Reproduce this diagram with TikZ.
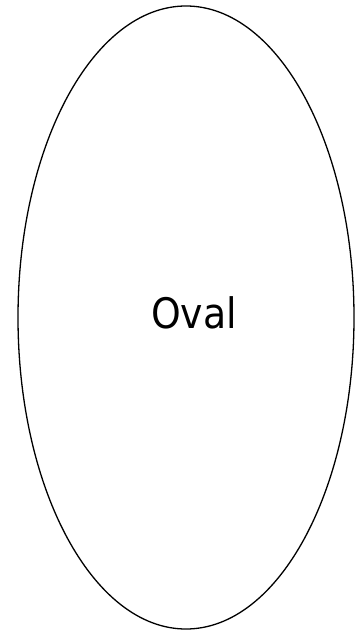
\documentclass[tikz,border=0pt]{standalone}
\usepackage{fontspec}
\setmainfont{DejaVu Sans Condensed}
\usetikzlibrary{shapes.geometric}
\tikzset{ovalshape/.style={ellipse, draw=black, line width=1.3pt, minimum width=336pt, minimum height=623pt, inner sep=0pt}}
\begin{document}
\begin{tikzpicture}[x=1pt,y=-1pt]
\useasboundingbox (0,0) rectangle (362,632);
\node[ovalshape] (oval) at (186,317.5) {};
\node[font=\fontsize{42}{44}\selectfont, inner sep=0pt, anchor=base] (label) at (194,328) {Oval};
\end{tikzpicture}
\end{document}
